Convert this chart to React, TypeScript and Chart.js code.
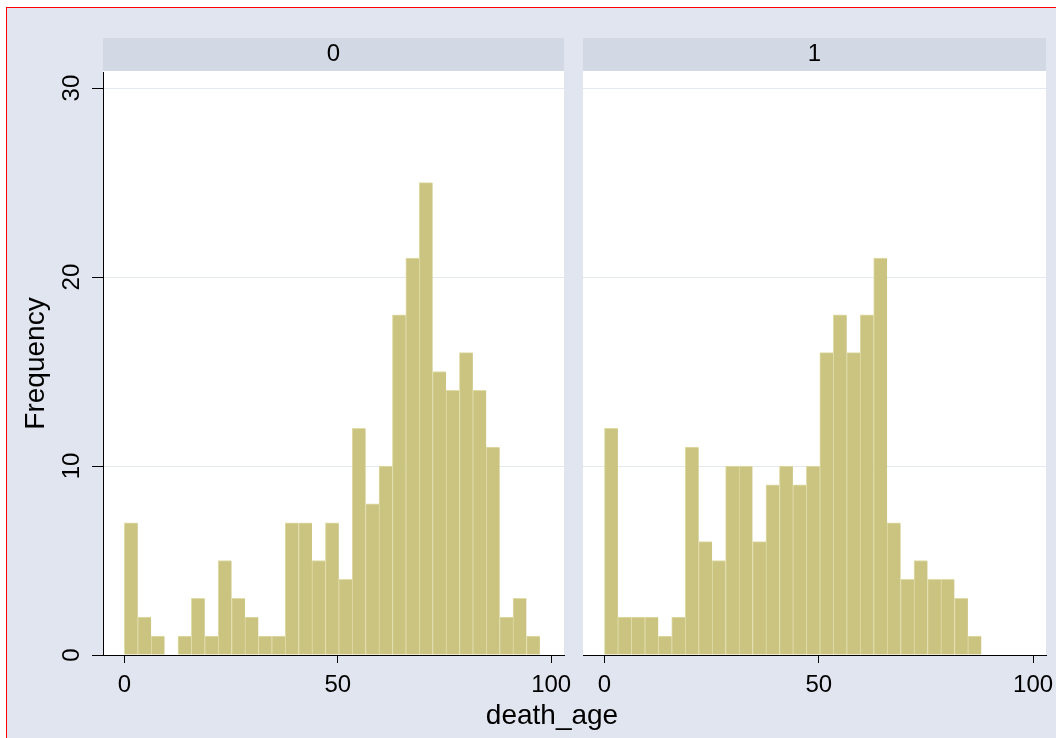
import React, { useEffect, useRef } from 'react';
import { Chart, registerables } from 'chart.js';

Chart.register(...registerables);

// ---------- data ----------
const BIN_START = 0;
const BIN_WIDTH = 3.14;
const groups = ['0', '1'];
const counts0 = [7, 2, 1, 0, 1, 3, 1, 5, 3, 2, 1, 1, 7, 7, 5, 7, 4, 12, 8, 10, 18, 21, 25, 15, 14, 16, 14, 11, 2, 3, 1];
const counts1 = [12, 2, 2, 2, 1, 2, 11, 6, 5, 10, 10, 6, 9, 10, 9, 10, 16, 18, 16, 18, 21, 7, 4, 5, 4, 4, 3, 1, 0, 0, 0];
const xTicks = [0, 50, 100];
const yTicks = [0, 10, 20, 30];
const X_MIN = -5;
const X_MAX = 103;
const Y_MIN = 0;
const Y_MAX = 30.85;
const xTitle = 'death_age';
const yTitle = 'Frequency';

// ---------- style ----------
const FONT = "'Liberation Sans', Arial, Helvetica, sans-serif";
const BG = '#e0e5ef';
const STRIP_BG = '#d2d9e4';
const GRID = '#e4e8f1';
const BAR_FILL = '#cbc480';
const BAR_EDGE = '#e0dca8';
const W = 1056;
const H = 738;

const panelPlugin = (label: string) => ({
  id: 'panelDecor',
  beforeDraw(chart: any) {
    const { ctx, chartArea: a } = chart;
    ctx.save();
    ctx.fillStyle = '#ffffff';
    ctx.fillRect(a.left, a.top - 1, a.right - a.left, a.bottom - a.top + 1);
    ctx.fillStyle = STRIP_BG;
    ctx.fillRect(a.left, a.top - 34, a.right - a.left, 33);
    ctx.fillStyle = '#000000';
    ctx.font = `24px ${FONT}`;
    ctx.textAlign = 'center';
    ctx.textBaseline = 'middle';
    ctx.fillText(label, (a.left + a.right) / 2, a.top - 18);
    ctx.restore();
  },
});

function buildConfig(counts: number[], label: string, leftPanel: boolean): any {
  const points = counts.map((c, i) => ({ x: BIN_START + BIN_WIDTH * (i + 0.5), y: c }));
  const tickFont = { family: FONT, size: 24 };
  return {
    type: 'bar',
    data: {
      datasets: [
        {
          data: points,
          backgroundColor: BAR_FILL,
          borderColor: BAR_EDGE,
          borderWidth: { top: 1, left: 1, right: 0, bottom: 0 },
          borderSkipped: false,
          barPercentage: 1,
          categoryPercentage: 1,
          grouped: false,
        },
      ],
    },
    options: {
      animation: false,
      responsive: false,
      maintainAspectRatio: false,
      events: [],
      layout: {
        padding: leftPanel
          ? { left: 0, top: 72, right: W - 564, bottom: H - 655 - 60 }
          : { left: 583, top: 72, right: W - 1046, bottom: H - 655 - 60 },
      },
      plugins: {
        legend: { display: false },
        tooltip: { enabled: false },
        title: { display: false },
      },
      scales: {
        x: {
          type: 'linear',
          min: X_MIN,
          max: X_MAX,
          offset: false,
          afterBuildTicks: (s: any) => {
            s.ticks = xTicks.map((v) => ({ value: v }));
          },
          afterFit: (s: any) => {
            s.height = 60;
            s.paddingLeft = 0;
            s.paddingRight = 0;
          },
          grid: {
            display: true,
            offset: false,
            drawOnChartArea: false,
            drawTicks: true,
            tickLength: 8,
            tickColor: '#000000',
            tickWidth: 1,
          },
          border: { display: true, color: '#000000', width: 1, z: 1 },
          ticks: {
            padding: 8,
            color: '#000000',
            font: tickFont,
            minRotation: 0,
            maxRotation: 0,
            autoSkip: false,
          },
        },
        y: {
          type: 'linear',
          min: Y_MIN,
          max: Y_MAX,
          afterBuildTicks: (s: any) => {
            s.ticks = yTicks.map((v) => ({ value: v }));
          },
          afterFit: (s: any) => {
            s.width = leftPanel ? 103 : 0;
            s.paddingTop = 0;
            s.paddingBottom = 0;
          },
          grid: {
            color: GRID,
            lineWidth: 1,
            drawTicks: leftPanel,
            tickLength: leftPanel ? 11 : 0,
            tickColor: '#000000',
            tickWidth: 1,
          },
          border: { display: leftPanel, color: '#000000', width: 1, z: 1 },
          ticks: {
            display: leftPanel,
            minRotation: 90,
            maxRotation: 90,
            crossAlign: 'center',
            padding: 6,
            color: '#000000',
            font: tickFont,
          },
          title: {
            display: leftPanel,
            text: yTitle,
            color: '#000000',
            font: { family: FONT, size: 28 },
            padding: { top: 19, bottom: 0 },
          },
        },
      },
    },
    plugins: [panelPlugin(label)],
  };
}

export default function App() {
  const leftRef = useRef<HTMLCanvasElement>(null);
  const rightRef = useRef<HTMLCanvasElement>(null);

  useEffect(() => {
    const c1 = new Chart(leftRef.current as HTMLCanvasElement, buildConfig(counts0, groups[0], true));
    const c2 = new Chart(rightRef.current as HTMLCanvasElement, buildConfig(counts1, groups[1], false));
    return () => {
      c1.destroy();
      c2.destroy();
    };
  }, []);

  return (
    <div style={{ position: 'fixed', left: 0, top: 0, width: W, height: H, background: '#ffffff', overflow: 'hidden' }}>
      <div
        style={{
          position: 'absolute',
          left: 6,
          top: 7,
          right: 0,
          bottom: 0,
          background: BG,
          borderLeft: '1px solid #ff0000',
          borderTop: '1px solid #ff0000',
        }}
      />
      <canvas ref={leftRef} width={W} height={H} style={{ position: 'absolute', left: 0, top: 0 }} />
      <canvas ref={rightRef} width={W} height={H} style={{ position: 'absolute', left: 0, top: 0 }} />
      <div
        style={{
          position: 'absolute',
          left: 402,
          width: 300,
          top: 697,
          textAlign: 'center',
          fontFamily: FONT,
          fontSize: 28,
          lineHeight: '36px',
          color: '#000000',
          whiteSpace: 'nowrap',
        }}
      >
        {xTitle}
      </div>
    </div>
  );
}
